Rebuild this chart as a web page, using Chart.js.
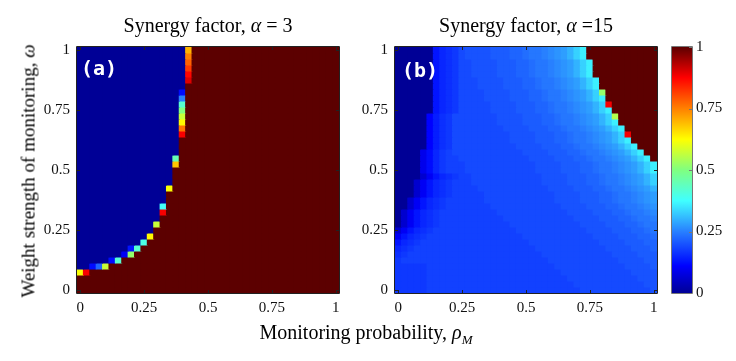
<!DOCTYPE html>
<html>
<head>
<meta charset="utf-8">
<title>Synergy factor heatmaps</title>
<script src="https://cdn.jsdelivr.net/npm/chart.js@4.4.1/dist/chart.umd.min.js"></script>
<style>
  html, body { margin: 0; padding: 0; background: #fff; }
  #figure { position: relative; width: 736px; height: 361px; overflow: hidden; font-family: "Liberation Serif", "Times New Roman", serif; color: #000; }
  #figure canvas { position: absolute; top: 0; }
  .label { position: absolute; white-space: nowrap; transform: translate(-50%, -50%); line-height: 1; }
  .panel-tag { position: absolute; color: #fff; font: bold 20px "DejaVu Sans Mono", monospace; line-height: 20px; }
</style>
</head>
<body>
<div id="figure">
  <canvas id="panelA" width="350" height="361" style="left:0px"></canvas>
  <canvas id="panelB" width="317" height="361" style="left:350px"></canvas>
  <canvas id="colorbar" width="69" height="361" style="left:667px"></canvas>
  <div class="label" style="left:208px; top:25px; font-size:20px">Synergy factor, <i>α</i> = 3</div>
  <div class="label" style="left:526px; top:25px; font-size:20px">Synergy factor, <i>α</i> =15</div>
  <div class="label" style="left:28px; top:171px; font-size:19px; transform:translate(-50%,-50%) rotate(-90deg)">Weight strength of monitoring, <i>ω</i></div>
  <div class="label" style="left:366px; top:334px; font-size:20px">Monitoring probability, <i>ρ</i><sub style="font-size:13px"><i>M</i></sub></div>
  <div class="panel-tag" style="left:81px; top:58px">(a)</div>
  <div class="panel-tag" style="left:402px; top:60px">(b)</div>
</div>
<script>
// monitoring probability (columns) and weight strength (rows, top row first)
var rhoM = [0, 0.025, 0.05, 0.075, 0.1, 0.125, 0.15, 0.175, 0.2, 0.225, 0.25, 0.275, 0.3, 0.325, 0.35, 0.375, 0.4, 0.425, 0.45, 0.475, 0.5,
            0.525, 0.55, 0.575, 0.6, 0.625, 0.65, 0.675, 0.7, 0.725, 0.75, 0.775, 0.8, 0.825, 0.85, 0.875, 0.9, 0.925, 0.95, 0.975, 1];
var omega = [1, 0.975, 0.95, 0.925, 0.9, 0.875, 0.85, 0.825, 0.8, 0.775, 0.75, 0.725, 0.7, 0.675, 0.65, 0.625, 0.6, 0.575, 0.55, 0.525, 0.5,
             0.475, 0.45, 0.425, 0.4, 0.375, 0.35, 0.325, 0.3, 0.275, 0.25, 0.225, 0.2, 0.175, 0.15, 0.125, 0.1, 0.075, 0.05, 0.025, 0];
var axisTicks = [0, 0.25, 0.5, 0.75, 1];

// cooperation level in %, alpha = 3 (one row per omega, top first)
var coopA = [
  [0,0,0,0,0, 0,0,0,0,0, 0,0,0,0,0, 0,0, 70, 100,100,100,100,100, 100,100,100,100,100, 100,100,100,100,100, 100,100,100,100,100, 100,100,100],
  [0,0,0,0,0, 0,0,0,0,0, 0,0,0,0,0, 0,0, 75, 100,100,100,100,100, 100,100,100,100,100, 100,100,100,100,100, 100,100,100,100,100, 100,100,100],
  [0,0,0,0,0, 0,0,0,0,0, 0,0,0,0,0, 0,0, 78, 100,100,100,100,100, 100,100,100,100,100, 100,100,100,100,100, 100,100,100,100,100, 100,100,100],
  [0,0,0,0,0, 0,0,0,0,0, 0,0,0,0,0, 0,0, 82, 100,100,100,100,100, 100,100,100,100,100, 100,100,100,100,100, 100,100,100,100,100, 100,100,100],
  [0,0,0,0,0, 0,0,0,0,0, 0,0,0,0,0, 0,0, 87, 100,100,100,100,100, 100,100,100,100,100, 100,100,100,100,100, 100,100,100,100,100, 100,100,100],
  [0,0,0,0,0, 0,0,0,0,0, 0,0,0,0,0, 0,0, 90, 100,100,100,100,100, 100,100,100,100,100, 100,100,100,100,100, 100,100,100,100,100, 100,100,100],
  [0,0,0,0,0, 0,0,0,0,0, 0,0,0,0,0, 0,0, 100,100,100,100,100, 100,100,100,100,100, 100,100,100,100,100, 100,100,100,100,100, 100,100,100,100],
  [0,0,0,0,0, 0,0,0,0,0, 0,0,0,0,0, 0, 12, 100,100,100,100,100, 100,100,100,100,100, 100,100,100,100,100, 100,100,100,100,100, 100,100,100,100],
  [0,0,0,0,0, 0,0,0,0,0, 0,0,0,0,0, 0, 25, 100,100,100,100,100, 100,100,100,100,100, 100,100,100,100,100, 100,100,100,100,100, 100,100,100,100],
  [0,0,0,0,0, 0,0,0,0,0, 0,0,0,0,0, 0, 42, 100,100,100,100,100, 100,100,100,100,100, 100,100,100,100,100, 100,100,100,100,100, 100,100,100,100],
  [0,0,0,0,0, 0,0,0,0,0, 0,0,0,0,0, 0, 50, 100,100,100,100,100, 100,100,100,100,100, 100,100,100,100,100, 100,100,100,100,100, 100,100,100,100],
  [0,0,0,0,0, 0,0,0,0,0, 0,0,0,0,0, 0, 57, 100,100,100,100,100, 100,100,100,100,100, 100,100,100,100,100, 100,100,100,100,100, 100,100,100,100],
  [0,0,0,0,0, 0,0,0,0,0, 0,0,0,0,0, 0, 63, 100,100,100,100,100, 100,100,100,100,100, 100,100,100,100,100, 100,100,100,100,100, 100,100,100,100],
  [0,0,0,0,0, 0,0,0,0,0, 0,0,0,0,0, 0, 76, 100,100,100,100,100, 100,100,100,100,100, 100,100,100,100,100, 100,100,100,100,100, 100,100,100,100],
  [0,0,0,0,0, 0,0,0,0,0, 0,0,0,0,0, 0, 88, 100,100,100,100,100, 100,100,100,100,100, 100,100,100,100,100, 100,100,100,100,100, 100,100,100,100],
  [0,0,0,0,0, 0,0,0,0,0, 0,0,0,0,0, 0, 100,100,100,100,100, 100,100,100,100,100, 100,100,100,100,100, 100,100,100,100,100, 100,100,100,100,100],
  [0,0,0,0,0, 0,0,0,0,0, 0,0,0,0,0, 0, 100,100,100,100,100, 100,100,100,100,100, 100,100,100,100,100, 100,100,100,100,100, 100,100,100,100,100],
  [0,0,0,0,0, 0,0,0,0,0, 0,0,0,0,0, 0, 100,100,100,100,100, 100,100,100,100,100, 100,100,100,100,100, 100,100,100,100,100, 100,100,100,100,100],
  [0,0,0,0,0, 0,0,0,0,0, 0,0,0,0,0, 45, 100,100,100,100,100, 100,100,100,100,100, 100,100,100,100,100, 100,100,100,100,100, 100,100,100,100,100],
  [0,0,0,0,0, 0,0,0,0,0, 0,0,0,0,0, 68, 100,100,100,100,100, 100,100,100,100,100, 100,100,100,100,100, 100,100,100,100,100, 100,100,100,100,100],
  [0,0,0,0,0, 0,0,0,0,0, 0,0,0,0,0, 100,100,100,100,100, 100,100,100,100,100, 100,100,100,100,100, 100,100,100,100,100, 100,100,100,100,100, 100],
  [0,0,0,0,0, 0,0,0,0,0, 0,0,0,0,0, 100,100,100,100,100, 100,100,100,100,100, 100,100,100,100,100, 100,100,100,100,100, 100,100,100,100,100, 100],
  [0,0,0,0,0, 0,0,0,0,0, 0,0,0,0,0, 100,100,100,100,100, 100,100,100,100,100, 100,100,100,100,100, 100,100,100,100,100, 100,100,100,100,100, 100],
  [0,0,0,0,0, 0,0,0,0,0, 0,0,0,0, 62, 100,100,100,100,100, 100,100,100,100,100, 100,100,100,100,100, 100,100,100,100,100, 100,100,100,100,100, 100],
  [0,0,0,0,0, 0,0,0,0,0, 0,0,0,0, 100,100,100,100,100, 100,100,100,100,100, 100,100,100,100,100, 100,100,100,100,100, 100,100,100,100,100, 100,100],
  [0,0,0,0,0, 0,0,0,0,0, 0,0,0,0, 100,100,100,100,100, 100,100,100,100,100, 100,100,100,100,100, 100,100,100,100,100, 100,100,100,100,100, 100,100],
  [0,0,0,0,0, 0,0,0,0,0, 0,0,0, 38, 100,100,100,100,100, 100,100,100,100,100, 100,100,100,100,100, 100,100,100,100,100, 100,100,100,100,100, 100,100],
  [0,0,0,0,0, 0,0,0,0,0, 0,0,0, 88, 100,100,100,100,100, 100,100,100,100,100, 100,100,100,100,100, 100,100,100,100,100, 100,100,100,100,100, 100,100],
  [0,0,0,0,0, 0,0,0,0,0, 0,0,0, 100,100,100,100,100, 100,100,100,100,100, 100,100,100,100,100, 100,100,100,100,100, 100,100,100,100,100, 100,100,100],
  [0,0,0,0,0, 0,0,0,0,0, 0,0, 57, 100,100,100,100,100, 100,100,100,100,100, 100,100,100,100,100, 100,100,100,100,100, 100,100,100,100,100, 100,100,100],
  [0,0,0,0,0, 0,0,0,0,0, 0,0, 100,100,100,100,100, 100,100,100,100,100, 100,100,100,100,100, 100,100,100,100,100, 100,100,100,100,100, 100,100,100,100],
  [0,0,0,0,0, 0,0,0,0,0, 0, 63, 100,100,100,100,100, 100,100,100,100,100, 100,100,100,100,100, 100,100,100,100,100, 100,100,100,100,100, 100,100,100,100],
  [0,0,0,0,0, 0,0,0,0,0, 40, 100,100,100,100,100, 100,100,100,100,100, 100,100,100,100,100, 100,100,100,100,100, 100,100,100,100,100, 100,100,100,100,100],
  [0,0,0,0,0, 0,0,0, 13, 42, 100,100,100,100,100, 100,100,100,100,100, 100,100,100,100,100, 100,100,100,100,100, 100,100,100,100,100, 100,100,100,100,100, 100],
  [0,0,0,0,0, 0,0, 10, 52, 100,100,100,100,100, 100,100,100,100,100, 100,100,100,100,100, 100,100,100,100,100, 100,100,100,100,100, 100,100,100,100,100, 100,100],
  [0,0,0,0,0, 12, 42, 100,100,100,100,100, 100,100,100,100,100, 100,100,100,100,100, 100,100,100,100,100, 100,100,100,100,100, 100,100,100,100,100, 100,100,100,100],
  [0,0, 12, 22, 57, 100,100,100,100,100, 100,100,100,100,100, 100,100,100,100,100, 100,100,100,100,100, 100,100,100,100,100, 100,100,100,100,100, 100,100,100,100,100, 100],
  [62, 88, 100,100,100,100,100, 100,100,100,100,100, 100,100,100,100,100, 100,100,100,100,100, 100,100,100,100,100, 100,100,100,100,100, 100,100,100,100,100, 100,100,100,100],
  [100,100,100,100,100, 100,100,100,100,100, 100,100,100,100,100, 100,100,100,100,100, 100,100,100,100,100, 100,100,100,100,100, 100,100,100,100,100, 100,100,100,100,100, 100],
  [100,100,100,100,100, 100,100,100,100,100, 100,100,100,100,100, 100,100,100,100,100, 100,100,100,100,100, 100,100,100,100,100, 100,100,100,100,100, 100,100,100,100,100, 100],
  [100,100,100,100,100, 100,100,100,100,100, 100,100,100,100,100, 100,100,100,100,100, 100,100,100,100,100, 100,100,100,100,100, 100,100,100,100,100, 100,100,100,100,100, 100]
];

// cooperation level in %, alpha = 15 (one row per omega, top first)
var coopB = [
  [0,0,0,0,0,0, 13,15,16,17, 19, 20,20,20,20,21,21,21,22,22,23,24,24,25,26,27,28,30,33,36, 100,100,100,100,100, 100,100,100,100,100, 100],
  [0,0,0,0,0,0, 13,15,16,17, 19, 20,20,20,20,21,21,21,22,22,23,24,24,25,26,27,28,30,33,36, 100,100,100,100,100, 100,100,100,100,100, 100],
  [0,0,0,0,0,0, 13,15,16,17, 19,19, 20,20,20,20,21,21,21,22,22,23,24,24,25,26,27,28,30,33,36, 100,100,100,100,100, 100,100,100,100,100],
  [0,0,0,0,0,0, 13,15,16,17, 19,19, 20,20,20,20,21,21,21,22,22,23,24,24,25,26,27,28,30,33,36, 100,100,100,100,100, 100,100,100,100,100],
  [0,0,0,0,0,0, 13,15,16,17, 19,19, 20,20,20,20,21,21,21,22,22,23,24,24,25,26,27,28,30,33,36, 100,100,100,100,100, 100,100,100,100,100],
  [0,0,0,0,0,0, 13,15,16,17, 19,19,19, 20,20,20,20,21,21,21,22,22,23,24,24,25,26,27,28,30,33,36, 100,100,100,100,100, 100,100,100,100],
  [0,0,0,0,0,0, 13,15,16,17, 19,19,19, 20,20,20,20,21,21,21,22,22,23,24,24,25,26,27,28,30,33,36, 100,100,100,100,100, 100,100,100,100],
  [0,0,0,0,0,0, 13,15,16,17, 19,19,19,19, 20,20,20,20,21,21,21,22,22,23,24,24,25,26,27,28,30,33,52, 100,100,100,100,100, 100,100,100],
  [0,0,0,0,0,0, 13,15,16,17, 19,19,19,19, 20,20,20,20,21,21,21,22,22,23,24,24,25,26,27,28,30,33,36, 100,100,100,100,100, 100,100,100],
  [0,0,0,0,0,0, 13,15,16,17, 19,19,19,19,19, 20,20,20,20,21,21,21,22,22,23,24,24,25,26,27,28,30,33,88, 100,100,100,100,100, 100,100],
  [0,0,0,0,0,0, 13,15,16,17, 19,19,19,19,19, 20,20,20,20,21,21,21,22,22,23,24,24,25,26,27,28,30,33,36, 100,100,100,100,100, 100,100],
  [0,0,0,0,0, 11,14,16,17, 19,19,19,19,19,19,19, 20,20,20,20,21,21,21,22,22,23,24,24,25,26,27,28,30,33,55, 100,100,100,100,100,100],
  [0,0,0,0,0, 11,14,16,17, 19,19,19,19,19,19,19, 20,20,20,20,21,21,21,22,22,23,24,24,25,26,27,28,30,33,36, 100,100,100,100,100,100],
  [0,0,0,0,0, 11,14,16,17, 19,19,19,19,19,19,19,19, 20,20,20,20,21,21,21,22,22,23,24,24,25,26,27,28,30,33,36, 100,100,100,100,100],
  [0,0,0,0,0, 11,14,16,17, 19,19,19,19,19,19,19,19,19, 20,20,20,20,21,21,21,22,22,23,24,24,25,26,27,28,30,33,88, 100,100,100,100],
  [0,0,0,0,0, 11,14,16,17, 19,19,19,19,19,19,19,19,19, 20,20,20,20,21,21,21,22,22,23,24,24,25,26,27,28,30,33,36, 100,100,100,100],
  [0,0,0,0,0, 11,14,16,17, 19,19,19,19,19,19,19,19,19,19, 20,20,20,20,21,21,21,22,22,23,24,24,25,26,27,28,30,33,36, 100,100,100],
  [0,0,0,0, 9,12,15,17, 18, 19,19,19,19,19,19,19,19,19,19,19, 20,20,20,20,21,21,21,22,22,23,24,24,25,26,27,28,30,33,36, 100,100],
  [0,0,0,0, 9,12,15,17, 18,18, 19,19,19,19,19,19,19,19,19,19,19, 20,20,20,20,21,21,21,22,22,23,24,24,25,26,27,28,30,33,36, 100],
  [0,0,0,0, 9,12,15,17, 18,18,18, 19,19,19,19,19,19,19,19,19,19,19, 20,20,20,20,21,21,21,22,22,23,24,24,25,26,27,28,30,33,36],
  [0,0,0,0, 9,12,15,17, 18,18,18, 19,19,19,19,19,19,19,19,19,19,19, 20,20,20,20,21,21,21,22,22,23,24,24,25,26,27,28,30,33,36],
  [0,0,0,0, 6,10,13,15,16,17, 18,18, 19,19,19,19,19,19,19,19,19,19,19, 20,20,20,20,21,21,21,22,22,23,24,24,25,26,27,28,30,33],
  [0,0,0, 6,10,13,15,16,17, 18,18,18, 19,19,19,19,19,19,19,19,19,19,19, 20,20,20,20,21,21,21,22,22,23,24,24,25,26,27,28,30,33],
  [0,0,0, 6,10,13,15,16,17, 18,18,18,18, 19,19,19,19,19,19,19,19,19,19,19, 20,20,20,20,21,21,21,22,22,23,24,24,25,26,27,28,30],
  [0,0,0, 6,10,13,15,16,17, 18,18,18,18,18, 19,19,19,19,19,19,19,19,19,19,19, 20,20,20,20,21,21,21,22,22,23,24,24,25,26,27,28],
  [0,0, 6,10,13,15,16,17, 18,18,18,18,18,18, 19,19,19,19,19,19,19,19,19,19,19, 20,20,20,20,21,21,21,22,22,23,24,24,25,26,27,28],
  [0,0, 6,10,13,15,16,17, 18,18,18,18,18,18,18, 19,19,19,19,19,19,19,19,19,19,19, 20,20,20,20,21,21,21,22,22,23,24,24,25,26,27],
  [0, 6,10,13,15,16,17, 18,18,18,18,18,18,18,18,18, 19,19,19,19,19,19,19,19,19,19,19, 20,20,20,20,21,21,21,22,22,23,24,24,25,26],
  [0, 6,10,13,15,16,17, 18,18,18,18,18,18,18,18,18,18, 19,19,19,19,19,19,19,19,19,19,19, 20,20,20,20,21,21,21,22,22,23,24,24,25],
  [0, 6,10,13,15,16,17, 18,18,18,18,18,18,18,18,18,18,18, 19,19,19,19,19,19,19,19,19,19,19, 20,20,20,20,21,21,21,22,22,23,24,24],
  [6,10,13,15,16,17, 18,18,18,18,18,18,18,18,18,18,18,18,18, 19,19,19,19,19,19,19,19,19,19,19, 20,20,20,20,21,21,21,22,22,23,24],
  [10,13,15,16,17, 18,18,18,18,18,18,18,18,18,18,18,18,18,18,18, 19,19,19,19,19,19,19,19,19,19,19, 20,20,20,20,21,21,21,22,22,23],
  [13,15,16,17, 18,18,18,18,18,18,18,18,18,18,18,18,18,18,18,18,18, 19,19,19,19,19,19,19,19,19,19,19, 20,20,20,20,21,21,21,22,22],
  [15,16,17, 18,18,18,18,18,18,18,18,18,18,18,18,18,18,18,18,18,18,18, 19,19,19,19,19,19,19,19,19,19,19, 20,20,20,20,21,21,21,22],
  [16,17, 18,18,18,18,18,18,18,18,18,18,18,18,18,18,18,18,18,18,18,18,18, 19,19,19,19,19,19,19,19,19,19,19, 20,20,20,20,21,21,21],
  [17, 18,18,18,18,18,18,18,18,18,18,18,18,18,18,18,18,18,18,18,18,18,18,18, 19,19,19,19,19,19,19,19,19,19,19, 20,20,20,20,21,21],
  [17,17,17,17,17, 18,18,18,18,18,18,18,18,18,18,18,18,18,18,18,18,18,18,18,18, 19,19,19,19,19,19,19,19,19,19,19, 20,20,20,20,21],
  [17,17,17,17,17, 18,18,18,18,18,18,18,18,18,18,18,18,18,18,18,18,18,18,18,18,18, 19,19,19,19,19,19,19,19,19,19,19, 20,20,20,20],
  [17,17,17,17,17, 18,18,18,18,18,18,18,18,18,18,18,18,18,18,18,18,18,18,18,18,18,18, 19,19,19,19,19,19,19,19,19,19,19, 20,20,20],
  [17,17,17,17,17, 18,18,18,18,18,18,18,18,18,18,18,18,18,18,18,18,18,18,18,18,18,18,18, 19,19,19,19,19,19,19,19,19,19,19, 20,20],
  [17,17,17,17,17, 18,18,18,18,18,18,18,18,18,18,18,18,18,18,18,18,18,18,18,18,18,18,18,18, 19,19,19,19,19,19,19,19,19,19,19, 20]
];

var half = 0.0125;   // half a grid cell
var tickFont = { family: 'Liberation Serif', size: 15 };

// jet-like colour map
var cmapPos = [0, 0.11, 0.125, 0.25, 0.375, 0.5, 0.625, 0.75, 0.875, 1];
var cmapRgb = [[0,0,150],[0,0,255],[0,16,255],[40,128,255],[64,255,255],[128,255,128],[255,255,0],[255,128,0],[255,0,0],[92,0,0]];

function jet(v) {
  for (var k = 1; k < cmapPos.length; k++) {
    if (v <= cmapPos[k]) {
      var t = (v - cmapPos[k - 1]) / (cmapPos[k] - cmapPos[k - 1]);
      var a = cmapRgb[k - 1], b = cmapRgb[k];
      return 'rgb(' + Math.round(a[0] + (b[0] - a[0]) * t) + ',' + Math.round(a[1] + (b[1] - a[1]) * t) + ',' + Math.round(a[2] + (b[2] - a[2]) * t) + ')';
    }
  }
  return 'rgb(92,0,0)';
}

function heatmapDatasets(grid) {
  return omega.map(function (w, r) {
    return {
      data: rhoM.map(function (p, c) { return { x: p, y: [w - half, w + half], v: grid[r][c] / 100 }; }),
      backgroundColor: function (ctx) { return ctx.raw ? jet(ctx.raw.v) : '#000'; },
      grouped: false,
      categoryPercentage: 1,
      barPercentage: 1,
      borderWidth: 0,
      inflateAmount: 0.5
    };
  });
}

function setTicks(s) { s.ticks = axisTicks.map(function (v) { return { value: v }; }); }

// frame round the plot area with short inward ticks
var framePlugin = {
  id: 'frame',
  afterDatasetsDraw: function (chart, args, opts) {
    var a = chart.chartArea, c = chart.ctx, L = 3;
    c.save();
    c.strokeStyle = opts.color;
    c.lineWidth = 1;
    c.beginPath();
    axisTicks.forEach(function (v) {
      if (opts.xTicks) {
        var px = Math.round(chart.scales.x.getPixelForValue(v)) + 0.5;
        c.moveTo(px, a.bottom); c.lineTo(px, a.bottom - L);
        c.moveTo(px, a.top); c.lineTo(px, a.top + L);
      }
      var py = Math.round(chart.scales.y.getPixelForValue(v)) + 0.5;
      if (opts.xTicks) { c.moveTo(a.left, py); c.lineTo(a.left + L, py); }
      c.moveTo(a.right, py); c.lineTo(a.right - L, py);
    });
    c.rect(a.left - 0.5, a.top - 0.5, a.right - a.left + 1, a.bottom - a.top + 1);
    c.stroke();
    c.restore();
  }
};

function heatmapChart(id, grid, yAxisWidth, rightPad) {
  return new Chart(document.getElementById(id), {
    type: 'bar',
    data: { datasets: heatmapDatasets(grid) },
    plugins: [framePlugin],
    options: {
      responsive: false,
      animation: false,
      events: [],
      layout: { padding: { top: 47, right: rightPad, left: 0, bottom: 0 } },
      plugins: { legend: { display: false }, tooltip: { enabled: false }, frame: { color: '#222', xTicks: true } },
      scales: {
        x: {
          type: 'linear', min: -half, max: 1 + half, offset: false,
          grid: { display: false, drawTicks: false }, border: { display: false },
          ticks: { color: '#111', font: tickFont, padding: 6, maxRotation: 0, callback: function (v) { return String(v); } },
          afterBuildTicks: setTicks,
          afterFit: function (s) { s.height = 68; }
        },
        y: {
          type: 'linear', min: -half, max: 1 + half,
          grid: { display: false, drawTicks: false }, border: { display: false },
          ticks: { color: '#111', font: tickFont, padding: 7, callback: function (v) { return String(v); } },
          afterBuildTicks: setTicks,
          afterFit: function (s) { s.width = yAxisWidth; }
        }
      }
    }
  });
}

var chartA = heatmapChart('panelA', coopA, 77, 11);
var chartB = heatmapChart('panelB', coopB, 45, 10);

function colorbarFill(ctx) {
  var area = ctx.chart.chartArea;
  if (!area) return '#888';
  var g = ctx.chart.ctx.createLinearGradient(0, area.bottom, 0, area.top);
  cmapPos.forEach(function (p, k) { g.addColorStop(p, 'rgb(' + cmapRgb[k].join(',') + ')'); });
  return g;
}

var colorbar = new Chart(document.getElementById('colorbar'), {
  type: 'bar',
  data: { labels: [''], datasets: [{ data: [[0, 1]], backgroundColor: colorbarFill, borderWidth: 0, barPercentage: 1, categoryPercentage: 1 }] },
  plugins: [framePlugin],
  options: {
    responsive: false,
    animation: false,
    events: [],
    layout: { padding: { top: 47, bottom: 68, left: 5, right: 0 } },
    plugins: { legend: { display: false }, tooltip: { enabled: false }, frame: { color: '#777', xTicks: false } },
    scales: {
      x: { display: false },
      y: {
        position: 'right', min: 0, max: 1,
        grid: { display: false, drawTicks: false }, border: { display: false },
        ticks: { color: '#111', font: tickFont, padding: 4, callback: function (v) { return String(v); } },
        afterBuildTicks: setTicks,
        afterFit: function (s) { s.width = 44; }
      }
    }
  }
});
</script>
</body>
</html>
